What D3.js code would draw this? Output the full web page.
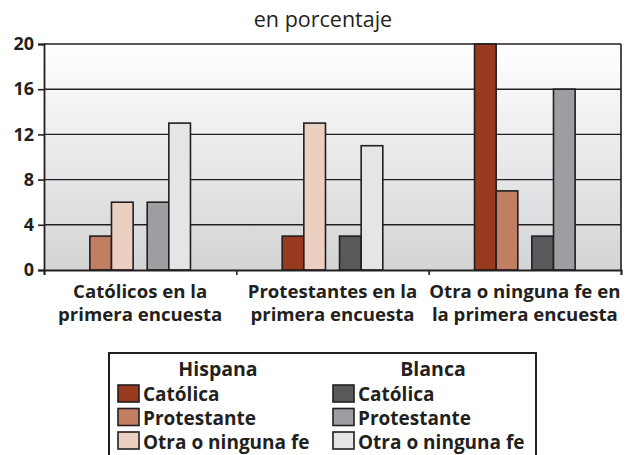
<!DOCTYPE html>
<html><head><meta charset="utf-8">
<script src="https://cdn.jsdelivr.net/npm/d3@7"></script>
<style>
html,body{margin:0;padding:0;background:#fff;}
svg{display:block;}
text{font-family:"Open Sans","Noto Sans",sans-serif;fill:#231f20;}
</style></head>
<body><svg id="chart" width="631" height="455"></svg>
<script>
const categories = [["Católicos en la","primera encuesta"],["Protestantes en la","primera encuesta"],["Otra o ninguna fe en","la primera encuesta"]];
const religions = ["Católica","Protestante","Otra o ninguna fe"];
const ethnicities = ["Hispana","Blanca"];
const hispanaCatolica = [null, 3, 20];
const hispanaProtestante = [3, null, 7];
const hispanaOtra = [6, 13, null];
const blancaCatolica = [null, 3, 3];
const blancaProtestante = [6, null, 16];
const blancaOtra = [13, 11, null];
const yTicks = [0, 4, 8, 12, 16, 20];
const title = "en porcentaje";

const colors = {
  "Hispana": ["#983a1e", "#c27e63", "#ebcfc0"],
  "Blanca": ["#58595b", "#9d9ea1", "#e4e5e7"]
};
const seriesByEth = {
  "Hispana": [hispanaCatolica, hispanaProtestante, hispanaOtra],
  "Blanca": [blancaCatolica, blancaProtestante, blancaOtra]
};

const svg = d3.select("#chart");
const L = 44, R = 621, T = 44, B = 270;

const y = d3.scaleLinear().domain([0, 20]).range([B, T]);
const x0 = d3.scaleBand().domain(d3.range(categories.length)).range([L, R]).padding(0);
const x1 = d3.scaleBand().domain(ethnicities).range([0, x0.bandwidth()]).paddingInner(0.245).paddingOuter(0.8);
const x2 = d3.scaleBand().domain([0, 1]).range([0, x1.bandwidth()]).padding(0);

// background gradient
const defs = svg.append("defs");
const grad = defs.append("linearGradient").attr("id", "bg").attr("x1", 0).attr("y1", 0).attr("x2", 0).attr("y2", 1);
grad.append("stop").attr("offset", "0%").attr("stop-color", "#ffffff");
grad.append("stop").attr("offset", "100%").attr("stop-color", "#d3d4d6");
svg.append("rect").attr("x", L).attr("y", T).attr("width", R - L).attr("height", B - T).attr("fill", "url(#bg)");

// gridlines
svg.append("g").selectAll("line").data(yTicks.filter(d => d > 0)).join("line")
  .attr("x1", L).attr("x2", R).attr("y1", d => y(d)).attr("y2", d => y(d))
  .attr("stroke", "#231f20").attr("stroke-width", 1.4);

// bars
const bars = [];
categories.forEach((c, ci) => {
  ethnicities.forEach(eth => {
    let slot = 0;
    seriesByEth[eth].forEach((arr, ri) => {
      const v = arr[ci];
      if (v === null) return;
      bars.push({ci, eth, ri, v, slot});
      slot++;
    });
  });
});
svg.append("g").selectAll("rect").data(bars).join("rect")
  .attr("x", d => x0(d.ci) + x1(d.eth) + x2(d.slot))
  .attr("width", x2.bandwidth())
  .attr("y", d => y(d.v))
  .attr("height", d => y(0) - y(d.v))
  .attr("fill", d => colors[d.eth][d.ri])
  .attr("stroke", "#231f20").attr("stroke-width", 1.6);

// right border
svg.append("line").attr("x1", R).attr("x2", R).attr("y1", T).attr("y2", B).attr("stroke", "#231f20").attr("stroke-width", 1.6);

// y axis
const yAxis = svg.append("g").attr("transform", `translate(${L},0)`)
  .call(d3.axisLeft(y).tickValues(yTicks).tickSize(6).tickPadding(4));
yAxis.select(".domain").attr("stroke", "#231f20").attr("stroke-width", 1.8);
yAxis.selectAll(".tick line").attr("stroke", "#231f20").attr("stroke-width", 1.6);
yAxis.selectAll(".tick text").attr("font-size", 18).attr("font-weight", 700).attr("font-family", "'Open Sans',sans-serif").attr("fill", "#231f20");

// x axis
const xIdx = d3.scaleLinear().domain([0, categories.length]).range([L, R]);
const xAxis = svg.append("g").attr("transform", `translate(0,${B})`)
  .call(d3.axisBottom(xIdx).tickValues(d3.range(categories.length + 1)).tickSize(5).tickFormat(""));
xAxis.select(".domain").attr("stroke", "#231f20").attr("stroke-width", 1.8);
xAxis.selectAll(".tick line").attr("stroke", "#231f20").attr("stroke-width", 1.6);

// category labels (one text per line)
const lines = [];
categories.forEach((c, ci) => c.forEach((t, li) => lines.push({ci, li, t})));
svg.append("g").selectAll("text").data(lines).join("text")
  .attr("x", d => x0(d.ci) + x0.bandwidth() / 2)
  .attr("y", d => 298 + d.li * 23)
  .attr("text-anchor", "middle").attr("font-size", 18.6).attr("font-weight", 700)
  .text(d => d.t);

// title
svg.append("text").attr("x", 323).attr("y", 27).attr("text-anchor", "middle")
  .attr("font-size", 21.5).text(title);

// legend
const lg = svg.append("g");
lg.append("rect").attr("x", 109).attr("y", 353).attr("width", 427).attr("height", 110)
  .attr("fill", "#fff").attr("stroke", "#231f20").attr("stroke-width", 2);
const colX = {"Hispana": 118, "Blanca": 333};
const headX = {"Hispana": 218, "Blanca": 433};
ethnicities.forEach(eth => {
  lg.append("text").attr("x", headX[eth]).attr("y", 376).attr("text-anchor", "middle")
    .attr("font-size", 19.5).attr("font-weight", 700).text(eth);
  religions.forEach((r, ri) => {
    lg.append("rect").attr("x", colX[eth]).attr("y", 385 + ri * 23.5).attr("width", 21).attr("height", 17)
      .attr("fill", colors[eth][ri]).attr("stroke", "#231f20").attr("stroke-width", 1.6);
    lg.append("text").attr("x", colX[eth] + 25).attr("y", 401 + ri * 24)
      .attr("font-size", 19).attr("font-weight", 700).text(r);
  });
});
</script></body></html>
